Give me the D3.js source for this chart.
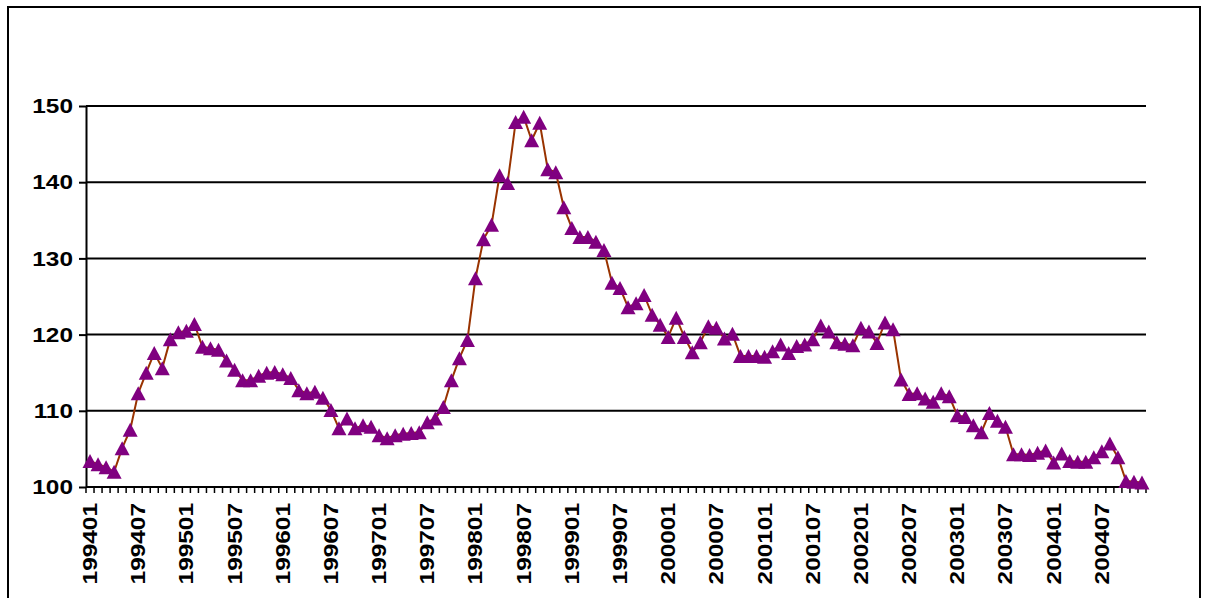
<!DOCTYPE html>
<html lang="en">
<head>
<meta charset="utf-8">
<title>Monthly index 1994-2004</title>
<script src="https://cdn.jsdelivr.net/npm/d3@7/dist/d3.min.js"></script>
<style>
  body { margin: 0; background: #fff; }
  svg text { font-family: Arial, "Liberation Sans", sans-serif; font-weight: bold; fill: #000; }
</style>
</head>
<body>
<script>
// categories: one per month, 199401 .. 200412
var years = ["1994","1995","1996","1997","1998","1999","2000","2001","2002","2003","2004"];
var months = ["01","02","03","04","05","06","07","08","09","10","11","12"];
var categories = [];
years.forEach(function(y) { months.forEach(function(m) { categories.push(y + m); }); });

// series values (one row per year)
var index = [
  103.4, 103.0, 102.6, 102.0, 105.1, 107.5, 112.3, 115.0, 117.6, 115.6, 119.4, 120.3,
  120.5, 121.4, 118.4, 118.2, 118.0, 116.6, 115.4, 114.0, 114.0, 114.6, 115.0, 115.1,
  114.8, 114.3, 112.7, 112.3, 112.5, 111.7, 110.1, 107.7, 109.0, 107.7, 108.1, 107.9,
  106.8, 106.4, 106.8, 107.0, 107.1, 107.2, 108.5, 109.0, 110.5, 114.0, 116.9, 119.3,
  127.4, 132.5, 134.4, 140.9, 139.9, 147.9, 148.6, 145.5, 147.8, 141.7, 141.3, 136.7,
  134.0, 132.8, 132.8, 132.2, 131.1, 126.8, 126.1, 123.6, 124.1, 125.2, 122.6, 121.3,
  119.7, 122.2, 119.7, 117.7, 119.0, 121.1, 120.9, 119.5, 120.1, 117.2, 117.2, 117.2,
  117.1, 117.8, 118.7, 117.6, 118.5, 118.7, 119.4, 121.2, 120.4, 119.0, 118.8, 118.6,
  120.9, 120.4, 118.9, 121.6, 120.7, 114.1, 112.2, 112.3, 111.6, 111.2, 112.3, 111.9,
  109.4, 109.2, 108.1, 107.2, 109.7, 108.7, 107.9, 104.3, 104.3, 104.2, 104.5, 104.8,
  103.2, 104.4, 103.4, 103.3, 103.3, 103.9, 104.7, 105.7, 103.9, 100.8, 100.7, 100.6
];

// tick labels
var xTickLabels = ["199401","199407","199501","199507","199601","199607","199701","199707",
  "199801","199807","199901","199907","200001","200007","200101","200107","200201","200207",
  "200301","200307","200401","200407"];
var yTickValues = [100, 110, 120, 130, 140, 150];

var width = 1206, height = 598;
var plot = { left: 86, right: 1146, top: 106, bottom: 487 };
var stretch = 1.22; // the labels are wider than plain Arial bold

var svg = d3.select("body").append("svg")
    .attr("width", width)
    .attr("height", height);

// outer frame (runs off the bottom of the picture)
svg.append("rect")
    .attr("x", 8).attr("y", 7)
    .attr("width", 1192).attr("height", 640)
    .attr("fill", "#fff")
    .attr("stroke", "#000")
    .attr("stroke-width", 2);

var xScale = d3.scaleBand()
    .domain(categories)
    .range([plot.left, plot.right]);

var yScale = d3.scaleLinear()
    .domain([100, 150])
    .range([plot.bottom, plot.top]);

// gridlines
svg.append("g").selectAll("line")
    .data(yTickValues)
    .enter()
    .append("line")
    .attr("x1", plot.left).attr("x2", plot.right)
    .attr("y1", function(d) { return yScale(d); })
    .attr("y2", function(d) { return yScale(d); })
    .attr("stroke", "#000")
    .attr("stroke-width", 2);

// y axis: line and ticks from d3, labels drawn separately so they can be stretched
var yAxis = d3.axisLeft(yScale)
    .tickValues(yTickValues)
    .tickFormat("")
    .tickSizeInner(7)
    .tickSizeOuter(0);

var gy = svg.append("g")
    .attr("transform", "translate(" + plot.left + ",0)")
    .call(yAxis);
gy.select(".domain").attr("stroke", "#000").attr("stroke-width", 2);
gy.selectAll(".tick line").attr("stroke", "#000").attr("stroke-width", 2);

svg.append("g").selectAll("text")
    .data(yTickValues)
    .enter()
    .append("text")
    .attr("transform", function(d) {
        return "translate(73," + yScale(d) + ") scale(" + stretch + ",1)";
    })
    .attr("text-anchor", "end")
    .attr("dy", "0.36em")
    .attr("font-size", 20)
    .text(function(d) { return d; });

// x axis: a line, a tick at every category boundary, labels every six months
var gx = svg.append("g");
gx.append("line")
    .attr("x1", plot.left).attr("x2", plot.right)
    .attr("y1", plot.bottom).attr("y2", plot.bottom)
    .attr("stroke", "#000").attr("stroke-width", 2);

var boundaries = categories.map(function(c) { return xScale(c); }).concat([plot.right]);
gx.selectAll("line.tk")
    .data(boundaries)
    .enter()
    .append("line")
    .attr("class", "tk")
    .attr("x1", function(d) { return d; })
    .attr("x2", function(d) { return d; })
    .attr("y1", plot.bottom)
    .attr("y2", plot.bottom + 6)
    .attr("stroke", "#000")
    .attr("stroke-width", 1.5);

gx.selectAll("text")
    .data(xTickLabels)
    .enter()
    .append("text")
    .attr("transform", function(d) {
        var xc = xScale(d) + xScale.bandwidth() / 2;
        return "translate(" + xc + "," + (plot.bottom + 16) + ") rotate(-90) scale(" + stretch + ",1)";
    })
    .attr("text-anchor", "end")
    .attr("dy", "0.35em")
    .attr("font-size", 20)
    .text(function(d) { return d; });

// series line
var line = d3.line()
    .x(function(d, i) { return xScale(categories[i]) + xScale.bandwidth() / 2; })
    .y(function(d) { return yScale(d); });

svg.append("path")
    .datum(index)
    .attr("d", line)
    .attr("fill", "none")
    .attr("stroke", "#993300")
    .attr("stroke-width", 2);

// triangle markers
var tri = "M0,-7L7.5,7L-7.5,7Z";
svg.append("g").selectAll("path")
    .data(index)
    .enter()
    .append("path")
    .attr("d", tri)
    .attr("transform", function(d, i) {
        return "translate(" + (xScale(categories[i]) + xScale.bandwidth() / 2) + "," + yScale(d) + ")";
    })
    .attr("fill", "#800080");
</script>
</body>
</html>
